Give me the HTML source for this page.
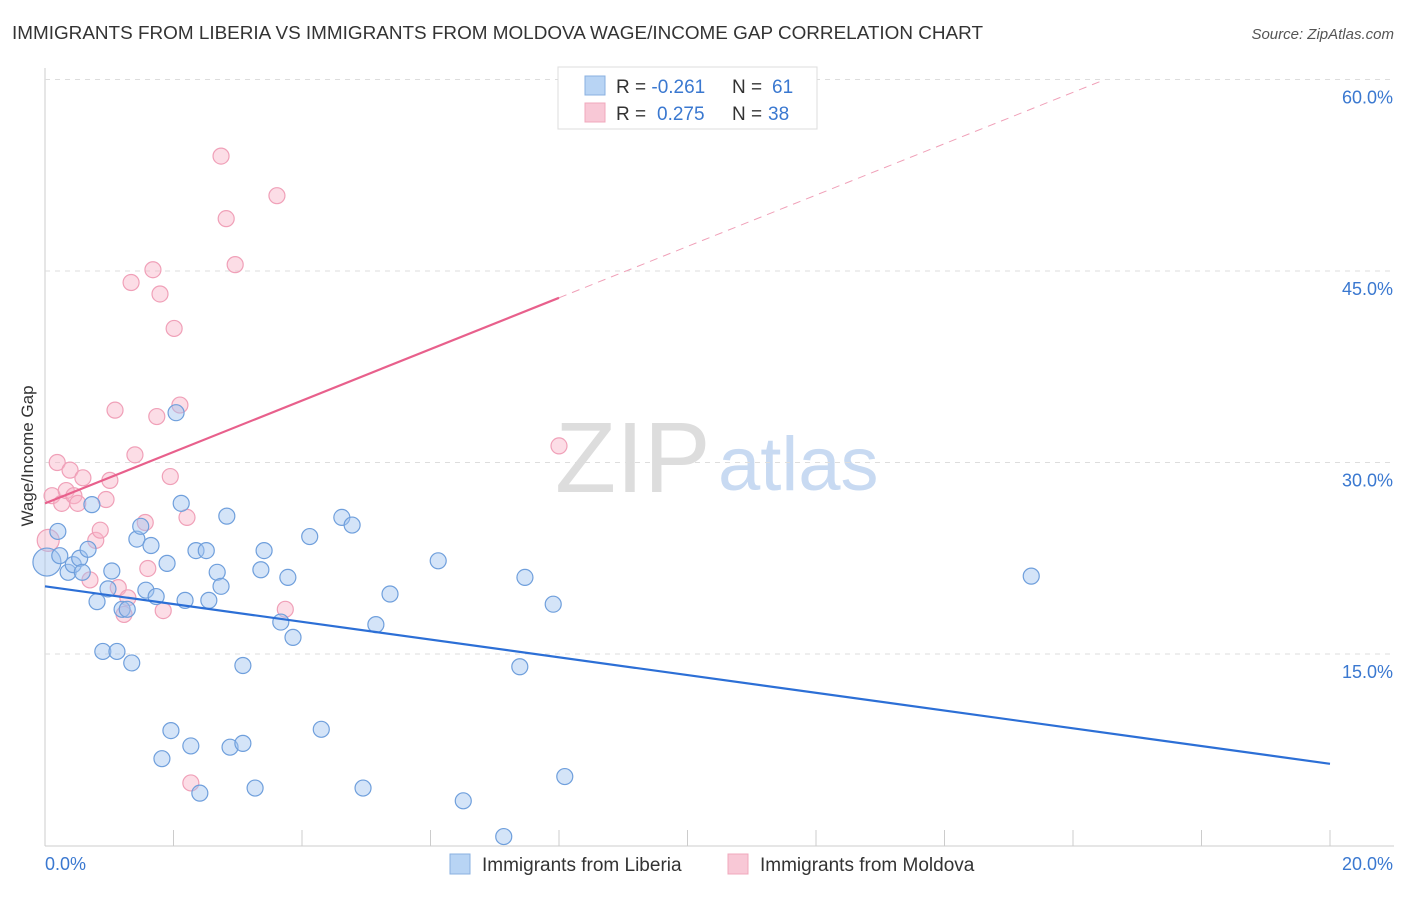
<!DOCTYPE html>
<html><head><meta charset="utf-8"><style>
body{margin:0;background:#fff;font-family:"Liberation Sans",sans-serif;}
svg text{font-family:"Liberation Sans",sans-serif;}
</style></head><body>
<svg width="1406" height="892" id="c">
<text x="12" y="39" font-size="18" fill="#333" textLength="971" lengthAdjust="spacingAndGlyphs">IMMIGRANTS FROM LIBERIA VS IMMIGRANTS FROM MOLDOVA WAGE/INCOME GAP CORRELATION CHART</text>
<text x="1394" y="39" font-size="15" fill="#555" font-style="italic" text-anchor="end">Source: ZipAtlas.com</text>
<text x="0" y="0" transform="translate(33,456) rotate(-90)" font-size="17" fill="#333" text-anchor="middle">Wage/Income Gap</text>
<text x="555" y="492" font-size="100" fill="#ddd" font-family="Liberation Serif">ZIP</text>
<text x="718" y="490" font-size="76" fill="#c8daf2">atlas</text>
<g id="grid"></g><g id="marks"></g>
<g>
<rect x="558" y="67" width="259" height="62" fill="#fff" stroke="#ddd"/>
<rect x="585" y="76" width="20" height="19" fill="#b8d4f4" stroke="#8ab0e0"/>
<rect x="585" y="103" width="20" height="19" fill="#f8c8d6" stroke="#f0a8bc"/>
<text x="616" y="93" font-size="19" fill="#333">R = <tspan fill="#3a78d0">-0.261</tspan><tspan x="732">N = </tspan><tspan fill="#3a78d0" x="772">61</tspan></text>
<text x="616" y="120" font-size="19" fill="#333">R = <tspan fill="#3a78d0" x="657">0.275</tspan><tspan x="732">N = </tspan><tspan fill="#3a78d0" x="768">38</tspan></text>
</g>
<g>
<rect x="450" y="854" width="20" height="20" fill="#b8d4f4" stroke="#8ab0e0"/>
<text x="482" y="871" font-size="19" fill="#333">Immigrants from Liberia</text>
<rect x="728" y="854" width="20" height="20" fill="#f8c8d6" stroke="#f0a8bc"/>
<text x="760" y="871" font-size="19" fill="#333">Immigrants from Moldova</text>
</g>
</svg>
<script>
const liberiaX=[0.03,0.20,0.23,0.36,0.44,0.54,0.58,0.67,0.73,0.81,0.90,0.98,1.04,1.12,1.20,1.28,1.35,1.43,1.49,1.57,1.65,1.73,1.82,1.90,1.96,2.04,2.12,2.18,2.27,2.35,2.41,2.51,2.55,2.68,2.74,2.83,2.88,3.08,3.08,3.27,3.36,3.41,3.67,3.78,3.86,4.12,4.30,4.62,4.78,4.95,5.15,5.37,6.12,6.51,7.14,7.39,7.47,7.91,8.09,15.35];
const liberiaY=[22.2,24.6,22.7,21.4,22.0,22.5,21.4,23.2,26.7,19.1,15.2,20.1,21.5,15.2,18.5,18.5,14.3,24.0,25.0,20.0,23.5,19.5,6.8,22.1,9.0,33.9,26.8,19.2,7.8,23.1,4.1,23.1,19.2,21.4,20.3,25.8,7.7,14.1,8.0,4.5,21.6,23.1,17.5,21.0,16.3,24.2,9.1,25.7,25.1,4.5,17.3,19.7,22.3,3.5,0.7,14.0,21.0,18.9,5.4,21.1];
const moldovaX=[0.05,0.11,0.19,0.26,0.33,0.39,0.45,0.51,0.59,0.70,0.79,0.86,0.95,1.01,1.09,1.14,1.23,1.29,1.34,1.40,1.56,1.60,1.68,1.74,1.79,1.84,1.95,2.01,2.10,2.21,2.27,2.74,2.82,2.96,3.61,3.74,8.00];
const moldovaY=[23.9,27.4,30.0,26.8,27.8,29.4,27.4,26.8,28.8,20.8,23.9,24.7,27.1,28.6,34.1,20.2,18.1,19.4,44.1,30.6,25.3,21.7,45.1,33.6,43.2,18.4,28.9,40.5,34.5,25.7,4.9,54.0,49.1,45.5,50.9,18.5,31.3];
const blueTrend=[[0,20.3],[20,6.4]];
const pinkTrend=[[0,26.8],[8.0,42.9]];
const pinkDash=[[8.0,42.9],[16.5,60]];
const yTicks=[15,30,45,60];
const xTicks=[0,20];
const X=v=>45+v/20*1285, Y=v=>845.5-v/15*191.5;
const NS="http://www.w3.org/2000/svg";
function mk(t,a,p){const e=document.createElementNS(NS,t);for(const k in a)e.setAttribute(k,a[k]);p.appendChild(e);return e;}
const g=document.getElementById('grid'),m=document.getElementById('marks');
const ax=mk('line',{x1:45,y1:68,x2:45,y2:846,stroke:'#ccc'},g);

const bx=mk('line',{x1:45,y1:846,x2:1394,y2:846,stroke:'#ccc'},g);

for(let i=1;i<=10;i++){const t=mk('line',{x1:45+i*128.5,y1:830,x2:45+i*128.5,y2:846,stroke:'#ccc'},g);
}
yTicks.forEach(v=>{const l=mk('line',{x1:45,y1:Y(v),x2:1394,y2:Y(v),stroke:'#ddd','stroke-dasharray':'5,5'},g);

const t=mk('text',{x:1393,y:Y(v)+24,'font-size':18,fill:'#3a78d0','text-anchor':'end'},g);t.textContent=v.toFixed(1)+'%';
});
xTicks.forEach(v=>{const t=mk('text',{x:v==0?45:1393,y:870,'font-size':18,fill:'#3a78d0','text-anchor':v==0?'start':'end'},g);t.textContent=v.toFixed(1)+'%';
});
function dots(xs,ys,fill,stroke,name){xs.forEach((x,i)=>{const c=mk('circle',{cx:X(x),cy:Y(ys[i]),r:i==0?(name=='liberia-point'?14:11):8,fill:fill,stroke:stroke,'stroke-width':1.2},m);
});}
dots(moldovaX,moldovaY,'rgba(248,180,200,0.45)','#f0a0b8','moldova-point');
dots(liberiaX,liberiaY,'rgba(160,196,240,0.45)','#6f9fdc','liberia-point');
function ln(p,st,w,dash,name){const l=mk('line',{x1:X(p[0][0]),y1:Y(p[0][1]),x2:X(p[1][0]),y2:Y(p[1][1]),stroke:st,'stroke-width':w},m);if(dash)l.setAttribute('stroke-dasharray',dash);
}
ln(blueTrend,'#2c6fd6',2.2,null,'liberia-trend-line');
ln(pinkTrend,'#e8608c',2.2,null,'moldova-trend-line');
ln(pinkDash,'#f0a0b8',1,'8,6','moldova-trend-extension');
</script>
</body></html>
